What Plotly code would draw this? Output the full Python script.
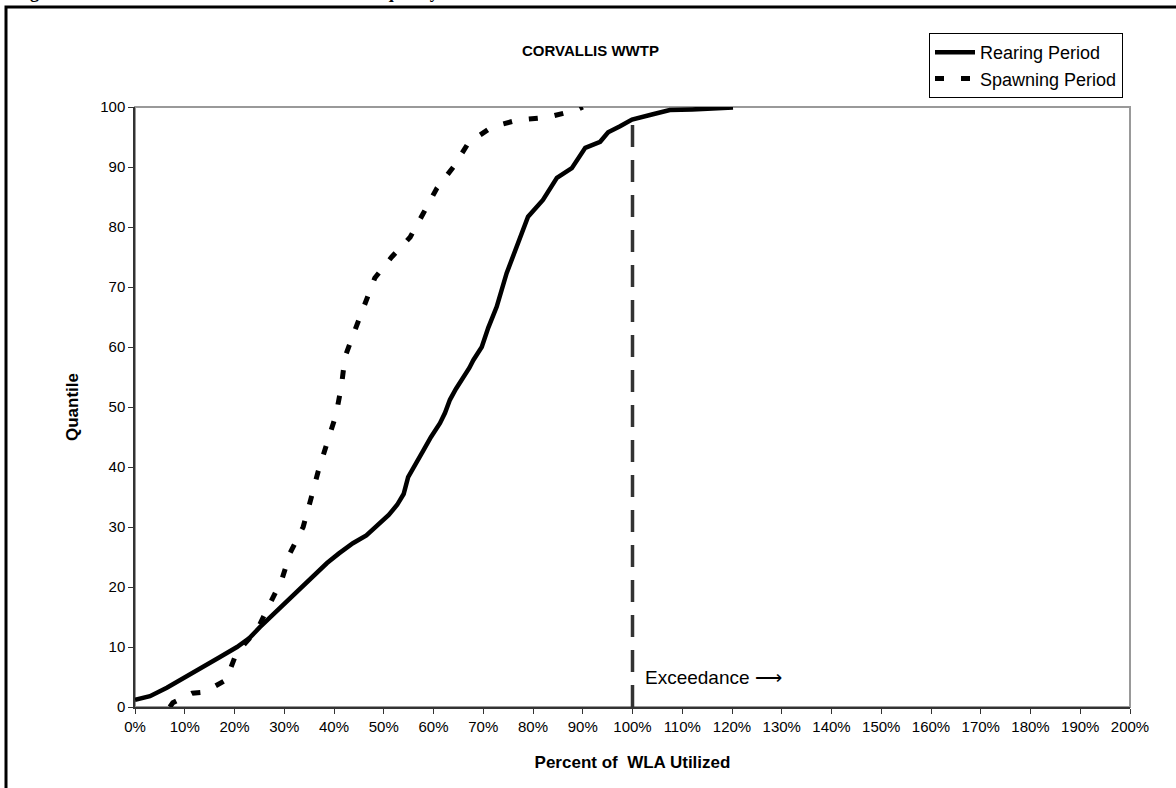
import plotly.graph_objects as go

# Rearing Period (solid) : percent of WLA utilized vs quantile
rear_x = [0, 3, 6.4, 10, 13.7, 17, 20.5, 23, 25.1, 28, 30.5, 32.5, 34.6, 36.5, 38.6, 41, 43.8,
          46.5, 49.2, 51, 52.7, 54, 54.9, 56.5, 58, 59.5, 61.3, 62.3, 63.3, 64.5, 66, 67.2, 68,
          69.7, 71, 72.7, 74.7, 76.7, 79, 82, 84.8, 87.8, 90.5, 93.5, 95.1, 97.5, 99.9, 104.1,
          107.5, 112, 120.2]
rear_y = [1.2, 1.8, 3.2, 5.0, 6.7, 8.3, 10.0, 11.5, 13.3, 15.6, 17.8, 19.3, 20.8, 22.3, 24.0,
          25.6, 27.3, 28.6, 30.6, 32.0, 33.7, 35.5, 38.3, 40.5, 42.8, 45.0, 47.3, 49.0, 51.2,
          53.0, 54.8, 56.5, 57.8, 60.0, 63.2, 66.7, 72.3, 76.7, 81.7, 84.5, 88.2, 89.8, 93.2,
          94.2, 95.8, 96.8, 97.9, 98.8, 99.5, 99.6, 99.9]

# Spawning Period (dashed)
spawn_x = [7, 7.6, 11.5, 14, 18.3, 20.4, 24.5, 27.1, 29.5, 31.2, 33.8, 35.4, 36.8, 38.6,
           40.4, 41.5, 42.2, 44.2, 46.2, 48.2, 51.6, 55.3, 57.9, 60.7, 64, 67, 71.8, 76.8,
           83, 88.8, 90]
spawn_y = [0.0, 0.7, 2.3, 2.5, 4.5, 9.0, 12.8, 17.0, 21.2, 25.7, 30.0, 34.8, 39.2, 44.0,
           48.7, 53.5, 58.3, 62.8, 67.0, 71.5, 75.0, 78.3, 82.2, 86.5, 90.0, 94.0, 96.7, 97.8,
           98.3, 99.5, 100.0]

x_ticks = list(range(0, 201, 10))
y_ticks = list(range(0, 101, 10))
limit_x = [100, 100]
limit_y = [0, 99]

W, H = 1176, 788
SL, SR, ST, SB = 135, 1130, 107, 707
L, R, T, B = SL, SR, ST, SB


def px(xs):
    return (xs - SL) / (SR - SL)


def py(ys):
    return (SB - ys) / (SB - ST)


fig = go.Figure()
fig.add_trace(go.Scatter(x=limit_x, y=limit_y, mode="lines", showlegend=False,
                         line=dict(color="#333333", width=3.5, dash="22px,13px"),
                         hoverinfo="skip"))
fig.add_trace(go.Scatter(x=rear_x, y=rear_y, mode="lines", name="Rearing Period",
                         line=dict(color="black", width=4.5)))
fig.add_trace(go.Scatter(x=spawn_x, y=spawn_y, mode="lines", name="Spawning Period",
                         line=dict(color="black", width=5, dash="9px,17px")))

fig.update_layout(
    width=W, height=H,
    margin=dict(l=L, r=W - R, t=T, b=H - B, pad=0),
    paper_bgcolor="white", plot_bgcolor="white",
    font=dict(family="Arial, Liberation Sans, sans-serif", color="black", size=15),
    showlegend=True,
    legend=dict(x=px(929), y=py(33), xanchor="left", yanchor="top",
                bordercolor="black", borderwidth=1, bgcolor="white",
                font=dict(size=18), tracegroupgap=0, itemwidth=40),
    xaxis=dict(range=[0, 200], tickvals=x_ticks, ticktext=[f"{v}%" for v in x_ticks],
               showgrid=False, zeroline=False, showline=True, linecolor="#333333",
               linewidth=1.5, ticks="outside", ticklen=5, tickcolor="#333333",
               tickfont=dict(size=15),
               title=dict(text="Percent of  WLA Utilized", font=dict(size=17, weight="bold"),
                          standoff=22)),
    yaxis=dict(range=[0, 100], tickvals=y_ticks, showgrid=False, zeroline=False,
               showline=True, linecolor="#333333", linewidth=1.5, ticks="outside",
               ticklen=5, tickcolor="#333333", tickfont=dict(size=15),
               title=dict(text="Quantile", font=dict(size=17, weight="bold"), standoff=17)),
    shapes=[
        dict(type="rect", xref="paper", yref="paper", x0=0, x1=1, y0=0, y1=1,
             line=dict(color="#999999", width=2), layer="below"),
        dict(type="rect", xref="paper", yref="paper", x0=px(6), x1=px(1300),
             y0=py(900), y1=py(7), line=dict(color="black", width=3), layer="below"),
    ],
    annotations=[
        dict(text="<b>CORVALLIS WWTP</b>", xref="paper", yref="paper", x=px(590), y=py(50),
             showarrow=False, font=dict(size=15), xanchor="center", yanchor="middle"),
        dict(text="Exceedance \u27f6", xref="x", yref="y", x=102.2, y=5, showarrow=False,
             font=dict(size=19), xanchor="left", yanchor="middle"),
        dict(text="<b>Figure 3: Corvallis WWTP WLA Utilization Frequency Distribution</b>",
             xref="paper", yref="paper", x=px(12), y=py(4), showarrow=False,
             font=dict(size=18, family="Liberation Serif, Times New Roman, serif"),
             xanchor="left", yanchor="bottom"),
    ],
)

fig.write_html("out.html", config={"displayModeBar": False},
               post_script="document.body.style.margin='0px';document.body.style.padding='0px';")
